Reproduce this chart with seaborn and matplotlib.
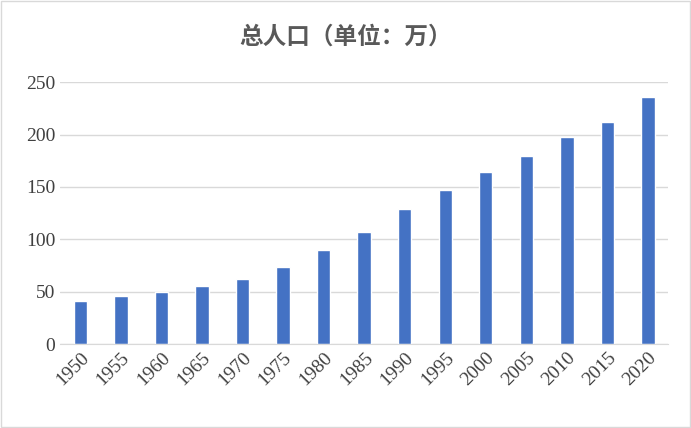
import matplotlib
matplotlib.use("Agg")
import matplotlib.pyplot as plt
import seaborn as sns
import pandas as pd

years = ["1950","1955","1960","1965","1970","1975","1980","1985","1990","1995","2000","2005","2010","2015","2020"]
pop = [41, 46, 50, 55, 62, 73.5, 90, 107, 129, 147, 164, 180, 198, 212, 236]

sns.set_style("white")
plt.rcParams['font.family'] = ['Liberation Serif', 'Noto Sans CJK SC']
df = pd.DataFrame({"year": years, "pop": pop})

fig = plt.figure(figsize=(6.91, 4.28), dpi=100)
ax = fig.add_axes([0.087, 0.196, 0.88, 0.612])
sns.barplot(data=df, x="year", y="pop", color="#4472C4", width=0.33, ax=ax, saturation=1)
ax.set_ylim(0, 250)
ax.set_yticks(range(0, 251, 50))
ax.yaxis.grid(True, color="#D9D9D9", lw=1)
ax.set_axisbelow(True)
for s in ["top", "right", "left"]:
    ax.spines[s].set_visible(False)
ax.spines["bottom"].set_color("#D9D9D9")
ax.set_xlabel(""); ax.set_ylabel("")
ax.tick_params(axis="both", length=0, labelsize=14, colors="#404040")
plt.setp(ax.get_xticklabels(), rotation=45, ha="right", rotation_mode="anchor")
ax.set_xlim(-0.5, len(years) - 0.5)
fig.text(0.5, 0.915, "总人口（单位：万）", ha="center", va="center", fontsize=17,
         fontweight="bold", color="#595959", family=["Noto Sans CJK SC"])
fig.patches.append(plt.Rectangle((0.001, 0.002), 0.997, 0.995, transform=fig.transFigure,
                                 fill=False, ec="#D9D9D9", lw=1))
fig.savefig("out.png", dpi=100)
